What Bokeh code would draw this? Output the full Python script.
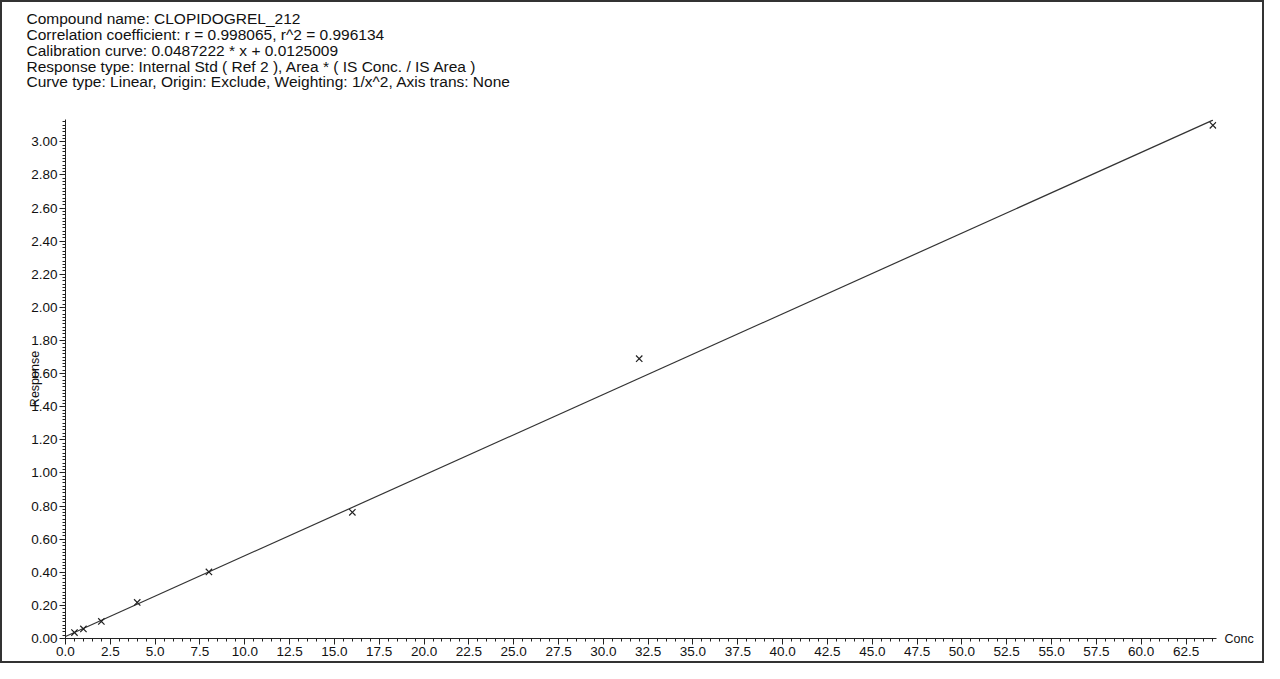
from bokeh.plotting import figure
from bokeh.models import (Range1d, SingleIntervalTicker, PrintfTickFormatter, Label)
from bokeh.embed import file_html
from bokeh.resources import INLINE

header_lines = [
    "Compound name: CLOPIDOGREL_212",
    "Correlation coefficient: r = 0.998065, r^2 = 0.996134",
    "Calibration curve: 0.0487222 * x + 0.0125009",
    "Response type: Internal Std ( Ref 2 ), Area * ( IS Conc. / IS Area )",
    "Curve type: Linear, Origin: Exclude, Weighting: 1/x^2, Axis trans: None",
]

conc = [0.5, 1.0, 2.0, 4.0, 8.0, 16.0, 32.0, 64.0]
response = [0.036, 0.058, 0.103, 0.218, 0.402, 0.762, 1.690, 3.100]

fit_x = [0.0, 64.0]
fit_y = [0.0125, 3.131]

x_label = "Conc"
y_label = "Response"

FONT = "Liberation Sans"

p = figure(width=1264, height=663, output_backend="svg", toolbar_location=None,
           x_range=Range1d(0, 64.2), y_range=Range1d(0, 3.135),
           min_border_left=63, min_border_right=50, min_border_top=117,
           min_border_bottom=27)
p.styles = {"border": "2px solid #333"}
p.outline_line_color = None
p.grid.visible = False
p.background_fill_color = "white"
p.border_fill_color = "white"

p.title.text = "\n".join(header_lines)
p.title.align = "left"
p.title.offset = -39
p.title.standoff = 6
p.title.padding = dict(left=0, right=0, top=0, bottom=26)
p.title.text_font = FONT
p.title.text_font_size = "15.5px"
p.title.text_font_style = "normal"
p.title.text_line_height = 0.94
p.title.text_color = "#111"

p.line(fit_x, fit_y, line_color="#333", line_width=1.2)
p.scatter(conc, response, marker="x", size=9, line_color="#222", line_width=1.2)

xa = p.xaxis[0]
xa.ticker = SingleIntervalTicker(interval=2.5, num_minor_ticks=5)
xa.formatter = PrintfTickFormatter(format="%.1f")
ya = p.yaxis[0]
ya.ticker = SingleIntervalTicker(interval=0.2, num_minor_ticks=10)
ya.formatter = PrintfTickFormatter(format="%.2f")
ya.axis_label = y_label
ya.axis_label_standoff = -14
ya.axis_label_text_font_style = "normal"

for ax in (xa, ya):
    ax.axis_line_color = "#222"
    ax.major_tick_line_color = "#222"
    ax.minor_tick_line_color = "#222"
    ax.major_tick_out = 6
    ax.major_tick_in = 0
    ax.minor_tick_out = 3
    ax.minor_tick_in = 0
    ax.major_label_text_font = FONT
    ax.major_label_text_font_size = "13.5px"
    ax.major_label_text_color = "#111"
    ax.axis_label_text_font = FONT
    ax.axis_label_text_font_size = "12.5px"
    ax.axis_label_text_color = "#111"
    ax.major_label_standoff = 2

p.add_layout(Label(x=8, y=0, x_units="screen", y_units="screen", text=x_label,
                   text_baseline="middle", text_font=FONT, text_font_size="12.5px",
                   text_color="#111"), "right")

open("out.html", "w").write(file_html(p, INLINE))
